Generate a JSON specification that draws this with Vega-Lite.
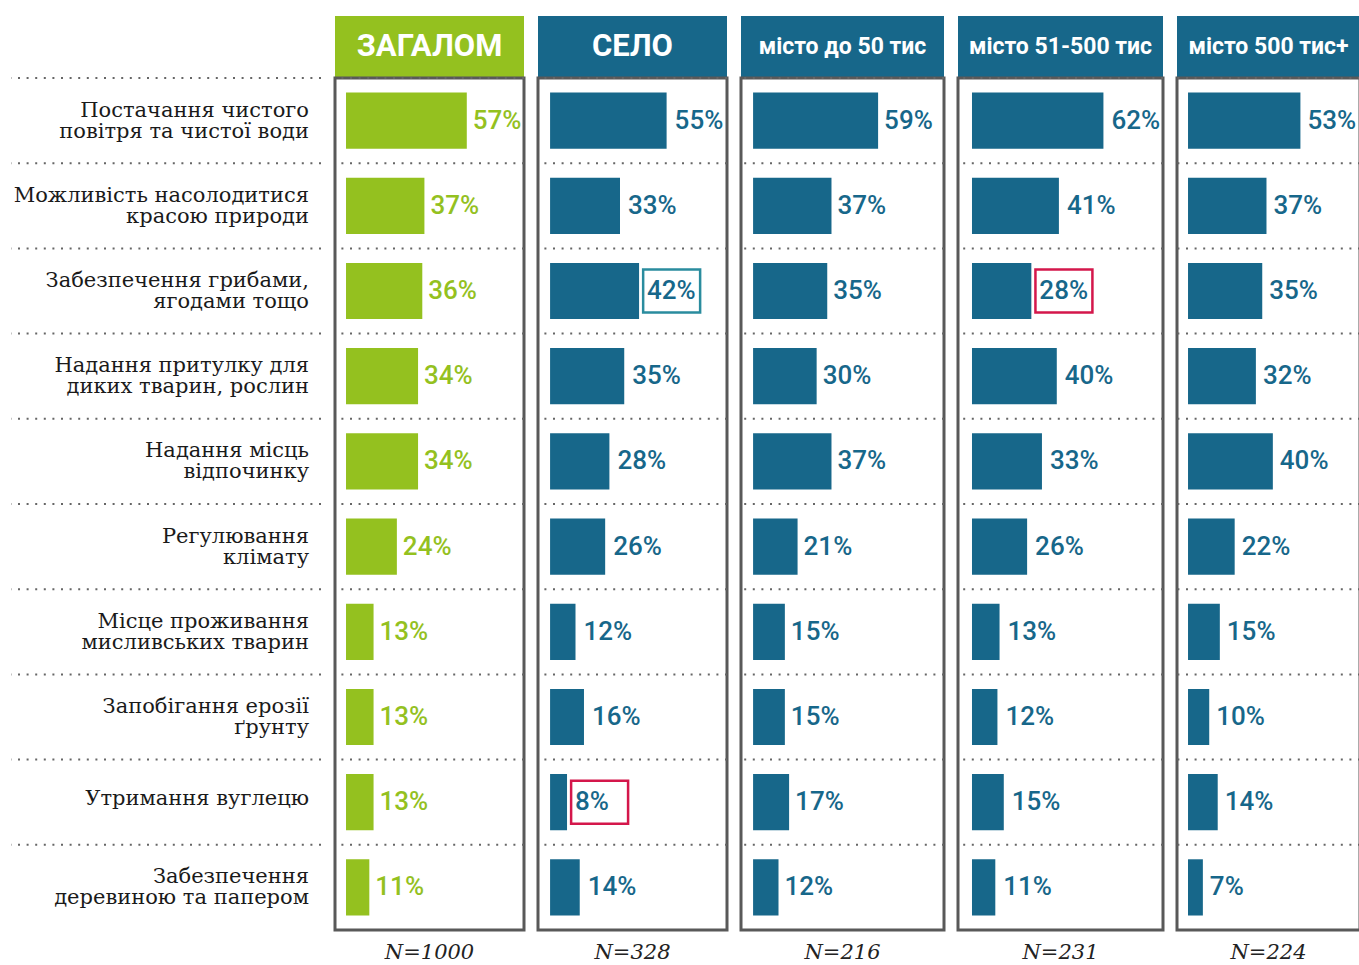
{
  "$schema": "https://vega.github.io/schema/vega-lite/v6.json",
  "padding": {"left": 10, "top": 16, "right": 0, "bottom": 0},
  "background": "white",
  "config": {
    "view": {"stroke": "#595959", "strokeWidth": 3},
    "title": {"font": "DejaVu Serif", "fontStyle": "italic", "fontWeight": "normal", "fontSize": 21, "color": "#222222"}
  },
  "datasets": {
    "d": [
      {"item": "Постачання чистого\nповітря та чистої води", "group": "ЗАГАЛОМ", "value": 0.57},
      {"item": "Можливість насолодитися\nкрасою природи", "group": "ЗАГАЛОМ", "value": 0.37},
      {"item": "Забезпечення грибами,\nягодами тощо", "group": "ЗАГАЛОМ", "value": 0.36},
      {"item": "Надання притулку для\nдиких тварин, рослин", "group": "ЗАГАЛОМ", "value": 0.34},
      {"item": "Надання місць\nвідпочинку", "group": "ЗАГАЛОМ", "value": 0.34},
      {"item": "Регулювання\nклімату", "group": "ЗАГАЛОМ", "value": 0.24},
      {"item": "Місце проживання\nмисливських тварин", "group": "ЗАГАЛОМ", "value": 0.13},
      {"item": "Запобігання ерозії\nґрунту", "group": "ЗАГАЛОМ", "value": 0.13},
      {"item": "Утримання вуглецю", "group": "ЗАГАЛОМ", "value": 0.13},
      {"item": "Забезпечення\nдеревиною та папером", "group": "ЗАГАЛОМ", "value": 0.11},

      {"item": "Постачання чистого\nповітря та чистої води", "group": "СЕЛО", "value": 0.55},
      {"item": "Можливість насолодитися\nкрасою природи", "group": "СЕЛО", "value": 0.33},
      {"item": "Забезпечення грибами,\nягодами тощо", "group": "СЕЛО", "value": 0.42, "diff": "higher"},
      {"item": "Надання притулку для\nдиких тварин, рослин", "group": "СЕЛО", "value": 0.35},
      {"item": "Надання місць\nвідпочинку", "group": "СЕЛО", "value": 0.28},
      {"item": "Регулювання\nклімату", "group": "СЕЛО", "value": 0.26},
      {"item": "Місце проживання\nмисливських тварин", "group": "СЕЛО", "value": 0.12},
      {"item": "Запобігання ерозії\nґрунту", "group": "СЕЛО", "value": 0.16},
      {"item": "Утримання вуглецю", "group": "СЕЛО", "value": 0.08, "diff": "lower"},
      {"item": "Забезпечення\nдеревиною та папером", "group": "СЕЛО", "value": 0.14},

      {"item": "Постачання чистого\nповітря та чистої води", "group": "місто до 50 тис", "value": 0.59},
      {"item": "Можливість насолодитися\nкрасою природи", "group": "місто до 50 тис", "value": 0.37},
      {"item": "Забезпечення грибами,\nягодами тощо", "group": "місто до 50 тис", "value": 0.35},
      {"item": "Надання притулку для\nдиких тварин, рослин", "group": "місто до 50 тис", "value": 0.30},
      {"item": "Надання місць\nвідпочинку", "group": "місто до 50 тис", "value": 0.37},
      {"item": "Регулювання\nклімату", "group": "місто до 50 тис", "value": 0.21},
      {"item": "Місце проживання\nмисливських тварин", "group": "місто до 50 тис", "value": 0.15},
      {"item": "Запобігання ерозії\nґрунту", "group": "місто до 50 тис", "value": 0.15},
      {"item": "Утримання вуглецю", "group": "місто до 50 тис", "value": 0.17},
      {"item": "Забезпечення\nдеревиною та папером", "group": "місто до 50 тис", "value": 0.12},

      {"item": "Постачання чистого\nповітря та чистої води", "group": "місто 51-500 тис", "value": 0.62},
      {"item": "Можливість насолодитися\nкрасою природи", "group": "місто 51-500 тис", "value": 0.41},
      {"item": "Забезпечення грибами,\nягодами тощо", "group": "місто 51-500 тис", "value": 0.28, "diff": "lower"},
      {"item": "Надання притулку для\nдиких тварин, рослин", "group": "місто 51-500 тис", "value": 0.40},
      {"item": "Надання місць\nвідпочинку", "group": "місто 51-500 тис", "value": 0.33},
      {"item": "Регулювання\nклімату", "group": "місто 51-500 тис", "value": 0.26},
      {"item": "Місце проживання\nмисливських тварин", "group": "місто 51-500 тис", "value": 0.13},
      {"item": "Запобігання ерозії\nґрунту", "group": "місто 51-500 тис", "value": 0.12},
      {"item": "Утримання вуглецю", "group": "місто 51-500 тис", "value": 0.15},
      {"item": "Забезпечення\nдеревиною та папером", "group": "місто 51-500 тис", "value": 0.11},

      {"item": "Постачання чистого\nповітря та чистої води", "group": "місто 500 тис+", "value": 0.53},
      {"item": "Можливість насолодитися\nкрасою природи", "group": "місто 500 тис+", "value": 0.37},
      {"item": "Забезпечення грибами,\nягодами тощо", "group": "місто 500 тис+", "value": 0.35},
      {"item": "Надання притулку для\nдиких тварин, рослин", "group": "місто 500 тис+", "value": 0.32},
      {"item": "Надання місць\nвідпочинку", "group": "місто 500 тис+", "value": 0.40},
      {"item": "Регулювання\nклімату", "group": "місто 500 тис+", "value": 0.22},
      {"item": "Місце проживання\nмисливських тварин", "group": "місто 500 тис+", "value": 0.15},
      {"item": "Запобігання ерозії\nґрунту", "group": "місто 500 тис+", "value": 0.10},
      {"item": "Утримання вуглецю", "group": "місто 500 тис+", "value": 0.14},
      {"item": "Забезпечення\nдеревиною та папером", "group": "місто 500 тис+", "value": 0.07}
    ]
  },
  "vconcat": [
    {
      "hconcat": [
        {"width": 310, "height": 61, "data": {"values": [{"h": ""}]}, "view": {"stroke": null}, "mark": {"type": "text"}, "encoding": {"text": {"field": "h"}}},
        {"width": 189, "height": 61, "data": {"values": [{"h": "ЗАГАЛОМ"}]}, "view": {"fill": "#94c11f"}, "mark": {"type": "text", "font": "Roboto", "fontSize": 31, "fontWeight": "bold", "color": "white"}, "encoding": {"text": {"field": "h"}}},
        {"width": 189, "height": 61, "data": {"values": [{"h": "СЕЛО"}]}, "view": {"fill": "#17678a"}, "mark": {"type": "text", "font": "Roboto", "fontSize": 31, "fontWeight": "bold", "color": "white"}, "encoding": {"text": {"field": "h"}}},
        {"width": 203, "height": 61, "data": {"values": [{"h": "місто до 50 тис"}]}, "view": {"fill": "#17678a"}, "mark": {"type": "text", "font": "Roboto", "fontSize": 23, "fontWeight": "bold", "color": "white"}, "encoding": {"text": {"field": "h"}}},
        {"width": 205, "height": 61, "data": {"values": [{"h": "місто 51-500 тис"}]}, "view": {"fill": "#17678a"}, "mark": {"type": "text", "font": "Roboto", "fontSize": 23, "fontWeight": "bold", "color": "white"}, "encoding": {"text": {"field": "h"}}},
        {"width": 183, "height": 61, "data": {"values": [{"h": "місто 500 тис+"}]}, "view": {"fill": "#17678a"}, "mark": {"type": "text", "font": "Roboto", "fontSize": 23, "fontWeight": "bold", "color": "white"}, "encoding": {"text": {"field": "h"}}}
      ],
      "spacing": 14,
      "bounds": "flush"
    },
    {
      "hconcat": [
        {
          "width": 310, "height": 852, "view": {"stroke": null},
          "data": {"name": "d"},
          "transform": [{"filter": "datum.group === 'ЗАГАЛОМ'"}],
          "encoding": {"y": {"field": "item", "type": "nominal", "sort": null, "axis": null, "scale": {"paddingInner": 0, "paddingOuter": 0}}},
          "layer": [
            {"mark": {"type": "rule", "strokeDash": [2, 6.6], "strokeWidth": 2, "color": "#666666", "x2Offset": 14}, "encoding": {"y": {"field": "item", "type": "nominal", "sort": null, "bandPosition": 0}}},
            {"transform": [{"filter": "indexof(datum.item, '\\n') >= 0"}], "mark": {"type": "text", "align": "right", "baseline": "middle", "dx": -12, "dy": -10, "lineBreak": "\n", "lineHeight": 21, "font": "DejaVu Serif", "fontSize": 21, "color": "#1a1a1a"}, "encoding": {"x": {"value": "width"}, "text": {"field": "item"}}},
            {"transform": [{"filter": "indexof(datum.item, '\\n') < 0"}], "mark": {"type": "text", "align": "right", "baseline": "middle", "dx": -12, "dy": -3, "font": "DejaVu Serif", "fontSize": 21, "color": "#1a1a1a"}, "encoding": {"x": {"value": "width"}, "text": {"field": "item"}}}
          ]
        },
        {
          "width": 189, "height": 852,
          "data": {"name": "d"},
          "transform": [{"filter": "datum.group === 'ЗАГАЛОМ'"}],
          "title": {"text": "N=1000", "orient": "bottom", "anchor": "middle", "offset": 12, "baseline": "top"},
          "encoding": {"y": {"field": "item", "type": "nominal", "sort": null, "axis": null, "scale": {"paddingInner": 0, "paddingOuter": 0}}},
          "layer": [
            {"mark": {"type": "rule", "strokeDash": [2, 6.6], "strokeWidth": 2, "color": "#666666", "x2Offset": 14}, "encoding": {"y": {"field": "item", "type": "nominal", "sort": null, "bandPosition": 0}}},
            {"mark": {"type": "bar", "height": {"band": 0.66}, "color": "#94c11f"}, "encoding": {"x": {"field": "value", "type": "quantitative", "axis": null, "scale": {"domain": [-0.052, 0.84], "nice": false, "zero": false}}}},
            {"mark": {"type": "text", "align": "left", "baseline": "middle", "dx": 6, "font": "Roboto", "fontSize": 26, "fontWeight": 500, "color": "#94c11f"}, "encoding": {"x": {"field": "value", "type": "quantitative"}, "text": {"field": "value", "type": "quantitative", "format": ".0%"}}}
          ]
        },
        {
          "width": 189, "height": 852,
          "data": {"name": "d"},
          "transform": [{"filter": "datum.group === 'СЕЛО'"}],
          "title": {"text": "N=328", "orient": "bottom", "anchor": "middle", "offset": 12, "baseline": "top"},
          "encoding": {"y": {"field": "item", "type": "nominal", "sort": null, "axis": null, "scale": {"paddingInner": 0, "paddingOuter": 0}}},
          "layer": [
            {"mark": {"type": "rule", "strokeDash": [2, 6.6], "strokeWidth": 2, "color": "#666666", "x2Offset": 14}, "encoding": {"y": {"field": "item", "type": "nominal", "sort": null, "bandPosition": 0}}},
            {"mark": {"type": "bar", "height": {"band": 0.66}, "color": "#17678a"}, "encoding": {"x": {"field": "value", "type": "quantitative", "axis": null, "scale": {"domain": [-0.057, 0.835], "nice": false, "zero": false}}}},
            {"mark": {"type": "text", "align": "left", "baseline": "middle", "dx": 8, "font": "Roboto", "fontSize": 26, "fontWeight": 500, "color": "#17678a"}, "encoding": {"x": {"field": "value", "type": "quantitative"}, "text": {"field": "value", "type": "quantitative", "format": ".0%"}}},
            {"transform": [{"filter": "isValid(datum.diff)"}], "mark": {"type": "point", "shape": "M0.19,-1H2.84V1H0.19Z", "size": 1849, "filled": false, "strokeWidth": 2.5, "opacity": 1}, "encoding": {"x": {"field": "value", "type": "quantitative"}, "color": {"field": "diff", "type": "nominal", "scale": {"domain": ["higher", "lower"], "range": ["#2a8c9e", "#d4174b"]}, "legend": null}}}
          ]
        },
        {
          "width": 203, "height": 852,
          "data": {"name": "d"},
          "transform": [{"filter": "datum.group === 'місто до 50 тис'"}],
          "title": {"text": "N=216", "orient": "bottom", "anchor": "middle", "offset": 12, "baseline": "top"},
          "encoding": {"y": {"field": "item", "type": "nominal", "sort": null, "axis": null, "scale": {"paddingInner": 0, "paddingOuter": 0}}},
          "layer": [
            {"mark": {"type": "rule", "strokeDash": [2, 6.6], "strokeWidth": 2, "color": "#666666", "x2Offset": 14}, "encoding": {"y": {"field": "item", "type": "nominal", "sort": null, "bandPosition": 0}}},
            {"mark": {"type": "bar", "height": {"band": 0.66}, "color": "#17678a"}, "encoding": {"x": {"field": "value", "type": "quantitative", "axis": null, "scale": {"domain": [-0.057, 0.901], "nice": false, "zero": false}}}},
            {"mark": {"type": "text", "align": "left", "baseline": "middle", "dx": 6, "font": "Roboto", "fontSize": 26, "fontWeight": 500, "color": "#17678a"}, "encoding": {"x": {"field": "value", "type": "quantitative"}, "text": {"field": "value", "type": "quantitative", "format": ".0%"}}}
          ]
        },
        {
          "width": 205, "height": 852,
          "data": {"name": "d"},
          "transform": [{"filter": "datum.group === 'місто 51-500 тис'"}],
          "title": {"text": "N=231", "orient": "bottom", "anchor": "middle", "offset": 12, "baseline": "top"},
          "encoding": {"y": {"field": "item", "type": "nominal", "sort": null, "axis": null, "scale": {"paddingInner": 0, "paddingOuter": 0}}},
          "layer": [
            {"mark": {"type": "rule", "strokeDash": [2, 6.6], "strokeWidth": 2, "color": "#666666", "x2Offset": 14}, "encoding": {"y": {"field": "item", "type": "nominal", "sort": null, "bandPosition": 0}}},
            {"mark": {"type": "bar", "height": {"band": 0.66}, "color": "#17678a"}, "encoding": {"x": {"field": "value", "type": "quantitative", "axis": null, "scale": {"domain": [-0.066, 0.901], "nice": false, "zero": false}}}},
            {"mark": {"type": "text", "align": "left", "baseline": "middle", "dx": 8, "font": "Roboto", "fontSize": 26, "fontWeight": 500, "color": "#17678a"}, "encoding": {"x": {"field": "value", "type": "quantitative"}, "text": {"field": "value", "type": "quantitative", "format": ".0%"}}},
            {"transform": [{"filter": "isValid(datum.diff)"}], "mark": {"type": "point", "shape": "M0.19,-1H2.84V1H0.19Z", "size": 1849, "filled": false, "strokeWidth": 2.5, "opacity": 1}, "encoding": {"x": {"field": "value", "type": "quantitative"}, "color": {"field": "diff", "type": "nominal", "scale": {"domain": ["higher", "lower"], "range": ["#2a8c9e", "#d4174b"]}, "legend": null}}}
          ]
        },
        {
          "width": 183, "height": 852,
          "data": {"name": "d"},
          "transform": [{"filter": "datum.group === 'місто 500 тис+'"}],
          "title": {"text": "N=224", "orient": "bottom", "anchor": "middle", "offset": 12, "baseline": "top"},
          "encoding": {"y": {"field": "item", "type": "nominal", "sort": null, "axis": null, "scale": {"paddingInner": 0, "paddingOuter": 0}}},
          "layer": [
            {"mark": {"type": "rule", "strokeDash": [2, 6.6], "strokeWidth": 2, "color": "#666666"}, "encoding": {"y": {"field": "item", "type": "nominal", "sort": null, "bandPosition": 0}}},
            {"mark": {"type": "bar", "height": {"band": 0.66}, "color": "#17678a"}, "encoding": {"x": {"field": "value", "type": "quantitative", "axis": null, "scale": {"domain": [-0.052, 0.811], "nice": false, "zero": false}}}},
            {"mark": {"type": "text", "align": "left", "baseline": "middle", "dx": 7, "font": "Roboto", "fontSize": 26, "fontWeight": 500, "color": "#17678a"}, "encoding": {"x": {"field": "value", "type": "quantitative"}, "text": {"field": "value", "type": "quantitative", "format": ".0%"}}}
          ]
        }
      ],
      "spacing": 14,
      "bounds": "flush"
    }
  ],
  "spacing": -2
}
